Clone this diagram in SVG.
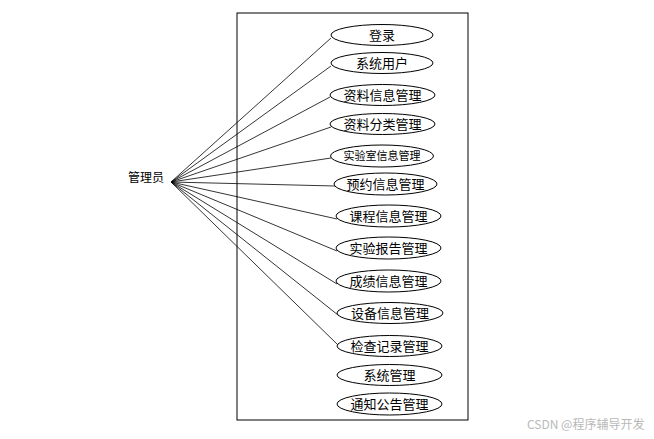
<svg xmlns="http://www.w3.org/2000/svg" width="654" height="439" viewBox="0 0 654 439">
<style>
.uc ellipse{fill:#fff;stroke:#000;stroke-width:1}
.t{font-family:"Noto Sans CJK SC","Liberation Sans",sans-serif;font-size:13px;fill:#000;text-anchor:middle;dominant-baseline:central}
.conn line{stroke:#000;stroke-width:0.8}
</style>
<rect width="654" height="439" fill="#fff"/>
<rect id="system" x="237" y="13" width="231" height="407" fill="none" stroke="#000" stroke-width="1"/>
<g id="actor"><text class="t" x="146" y="176" style="font-size:12px">管理员</text></g>
<g class="conn">
<line x1="171" y1="182" x2="331" y2="38"/>
<line x1="171" y1="182" x2="331" y2="66"/>
<line x1="171" y1="182" x2="330" y2="97"/>
<line x1="171" y1="182" x2="331" y2="127"/>
<line x1="171" y1="182" x2="331" y2="158"/>
<line x1="171" y1="182" x2="335" y2="186"/>
<line x1="171" y1="182" x2="337" y2="219"/>
<line x1="171" y1="182" x2="337" y2="251"/>
<line x1="171" y1="182" x2="337" y2="284"/>
<line x1="171" y1="182" x2="338" y2="315"/>
<line x1="171" y1="182" x2="338" y2="345"/>
</g>
<g class="uc">
<g id="uc1"><ellipse cx="382" cy="35" rx="51" ry="10.5"/><text class="t" x="382" y="34">登录</text></g>
<g id="uc2"><ellipse cx="382" cy="63" rx="51" ry="10.5"/><text class="t" x="382" y="62">系统用户</text></g>
<g id="uc3"><ellipse cx="382.5" cy="95" rx="52.5" ry="10.5"/><text class="t" x="382.5" y="94">资料信息管理</text></g>
<g id="uc4"><ellipse cx="382.5" cy="124" rx="52.5" ry="10.5"/><text class="t" x="382.5" y="123">资料分类管理</text></g>
<g id="uc5"><ellipse cx="382" cy="156" rx="51.5" ry="11"/><text class="t" x="382" y="155" style="font-size:11px">实验室信息管理</text></g>
<g id="uc6"><ellipse cx="385.5" cy="184" rx="51.5" ry="11"/><text class="t" x="385.5" y="183">预约信息管理</text></g>
<g id="uc7"><ellipse cx="388.5" cy="216" rx="52.5" ry="11"/><text class="t" x="388.5" y="215">课程信息管理</text></g>
<g id="uc8"><ellipse cx="388.5" cy="248" rx="52.5" ry="11"/><text class="t" x="388.5" y="247">实验报告管理</text></g>
<g id="uc9"><ellipse cx="388.5" cy="281" rx="52.5" ry="11"/><text class="t" x="388.5" y="280">成绩信息管理</text></g>
<g id="uc10"><ellipse cx="390" cy="313" rx="53" ry="10.5"/><text class="t" x="390" y="312">设备信息管理</text></g>
<g id="uc11"><ellipse cx="389.5" cy="346" rx="52.5" ry="10.5"/><text class="t" x="389.5" y="345">检查记录管理</text></g>
<g id="uc12"><ellipse cx="389.5" cy="375" rx="52.5" ry="10.5"/><text class="t" x="389.5" y="374">系统管理</text></g>
<g id="uc13"><ellipse cx="389.5" cy="404" rx="52.5" ry="11"/><text class="t" x="389.5" y="403">通知公告管理</text></g>
</g>
<text x="527" y="423" style="font-family:'Noto Sans CJK SC','Liberation Sans',sans-serif;font-size:12px;fill:#b8b8b8;dominant-baseline:central">CSDN @程序辅导开发</text>
</svg>
